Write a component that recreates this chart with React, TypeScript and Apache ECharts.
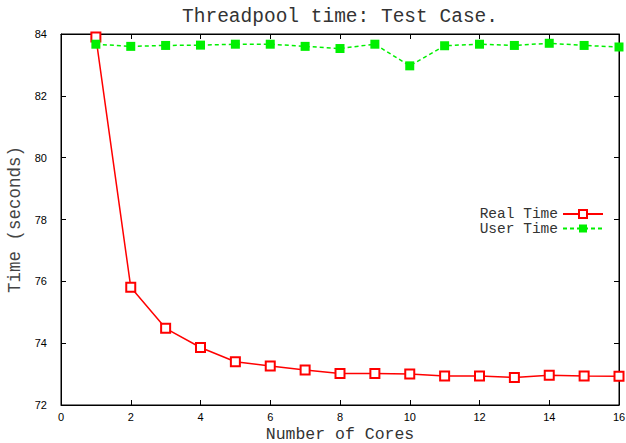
import React, { useEffect, useRef } from "react";
import * as echarts from "echarts";

const cores = [1, 2, 3, 4, 5, 6, 7, 8, 9, 10, 11, 12, 13, 14, 15, 16];
const realTime = [83.9, 75.81, 74.48, 73.86, 73.4, 73.26, 73.13, 73.02, 73.02, 73.0, 72.94, 72.94, 72.89, 72.96, 72.94, 72.93];
const userTime = [83.67, 83.6, 83.63, 83.64, 83.67, 83.67, 83.6, 83.53, 83.67, 82.97, 83.62, 83.67, 83.63, 83.7, 83.63, 83.58];
const titleText = "Threadpool time: Test Case.";
const xName = "Number of Cores";
const yName = "Time (seconds)";

const MONO = "'Liberation Mono', 'DejaVu Sans Mono', monospace";
const SANS = "'Liberation Sans', Arial, sans-serif";
const RED = "#ff0000";
const GREEN = "#00f000";

export default function App() {
  const ref = useRef<HTMLDivElement>(null);
  useEffect(() => {
    document.body.style.margin = "0";
    const chart = echarts.init(ref.current!, null, { renderer: "svg" });
    const xCommon = {
      type: "value" as const,
      min: 0,
      max: 16,
      interval: 2,
      splitLine: { show: false },
      axisLine: { show: true, onZero: false, lineStyle: { color: "#000", width: 1 } },
      axisTick: { show: true, inside: true, length: 5, lineStyle: { color: "#000" } },
    };
    const yCommon = {
      type: "value" as const,
      min: 72,
      max: 84,
      interval: 2,
      splitLine: { show: false },
      axisLine: { show: true, onZero: false, lineStyle: { color: "#000", width: 1 } },
      axisTick: { show: true, inside: true, length: 5, lineStyle: { color: "#000" } },
    };
    const legendCommon = {
      right: 22,
      orient: "vertical" as const,
      align: "right" as const,
      itemWidth: 40,
      itemHeight: 10,
      itemGap: 0,
      padding: 0,
      textStyle: { fontFamily: MONO, fontSize: 14.5, color: "#333", lineHeight: 14.5 },
    };
    chart.setOption({
      animation: false,
      backgroundColor: "#fff",
      graphic: [
        {
          type: "text",
          x: 340,
          y: 17,
          style: {
            text: titleText,
            fontFamily: MONO,
            fontSize: 19.5,
            fill: "#333",
            textAlign: "center",
            textVerticalAlign: "middle",
          },
        },
        {
          type: "text",
          x: 340,
          y: 434,
          style: {
            text: xName,
            fontFamily: MONO,
            fontSize: 16.5,
            fill: "#333",
            textAlign: "center",
            textVerticalAlign: "middle",
          },
        },
      ],
      legend: [
        { ...legendCommon, top: 206.5, data: ["Real Time"] },
        { ...legendCommon, top: 221, data: ["User Time"] },
      ],
      grid: {
        left: 61,
        right: 7,
        top: 34,
        bottom: 38,
        show: true,
        borderColor: "#000",
        borderWidth: 1,
        outerBoundsMode: "none",
        containLabel: false,
      },
      xAxis: [
        {
          ...xCommon,
          position: "bottom",
          axisLabel: { show: true, margin: 6, fontFamily: SANS, fontSize: 11, color: "#000" },
        },
        {
          ...xCommon,
          position: "top",
          axisLabel: { show: false },
        },
      ],
      yAxis: [
        {
          ...yCommon,
          position: "left",
          name: yName,
          nameLocation: "middle",
          nameGap: 35,
          nameRotate: 90,
          nameTextStyle: { fontFamily: MONO, fontSize: 17.5, color: "#444" },
          axisLabel: { show: true, margin: 14, fontFamily: SANS, fontSize: 11, color: "#000" },
        },
        {
          ...yCommon,
          position: "right",
          axisLabel: { show: false },
        },
      ],
      series: [
        {
          name: "Real Time",
          type: "line",
          xAxisIndex: 0,
          yAxisIndex: 0,
          data: cores.map((c, i) => [c, realTime[i]]),
          symbol: "emptyRect",
          symbolSize: 9,
          clip: false,
          itemStyle: { color: RED, borderWidth: 1.5 },
          lineStyle: { color: RED, width: 1.5, type: "solid" },
        },
        {
          name: "User Time",
          type: "line",
          xAxisIndex: 0,
          yAxisIndex: 0,
          data: cores.map((c, i) => [c, userTime[i]]),
          symbol: "rect",
          symbolSize: 9,
          clip: false,
          itemStyle: { color: GREEN },
          lineStyle: { color: GREEN, width: 1.5, type: [4, 3] },
        },
      ],
    });
    return () => chart.dispose();
  }, []);
  return <div ref={ref} style={{ width: 626, height: 443 }} />;
}
